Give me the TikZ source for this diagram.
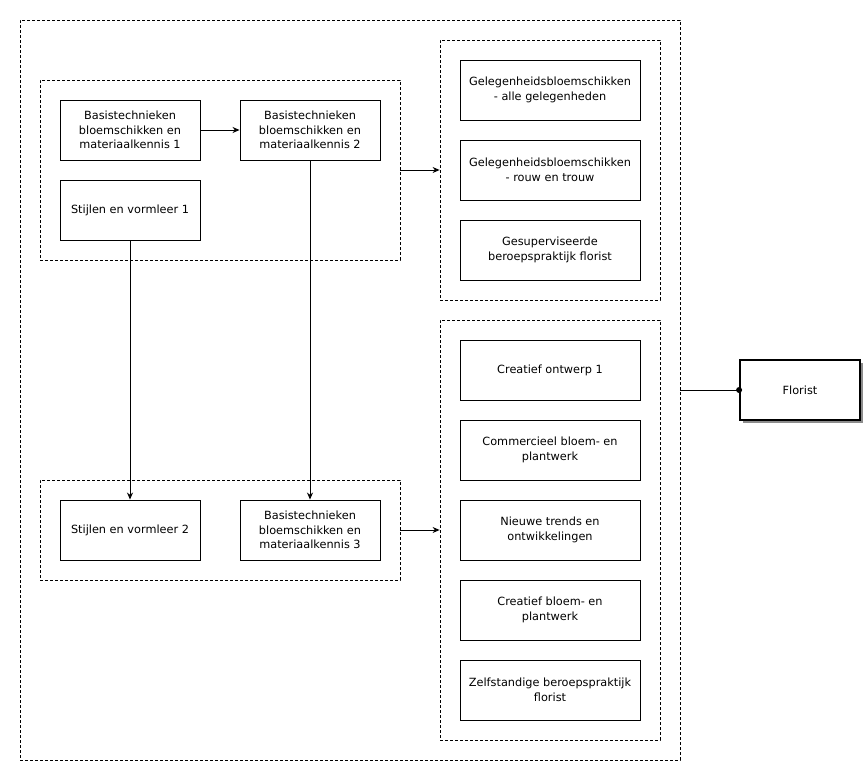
\documentclass[tikz,border=0pt]{standalone}
\usepackage{fontspec}
\setmainfont{DejaVu Sans}
\usetikzlibrary{arrows.meta, positioning, shadows}

\begin{document}
\begin{tikzpicture}[
    x=1pt, y=-1pt,
    course/.style={rectangle, draw, line width=0.9pt, fill=white, minimum width=140pt, minimum height=60pt, align=center, inner sep=2pt, font=\fontsize{11.3}{14.5}\selectfont},
    widecourse/.style={course, minimum width=180pt},
    group/.style={rectangle, draw, line width=0.8pt, dash pattern=on 3pt off 2pt, inner sep=0pt},
    flow/.style={-{Stealth[length=7pt, width=6pt]}, line width=0.9pt}
]
    \useasboundingbox (0,0) rectangle (868,765);

    % dashed groups
    \node[group, minimum width=660pt, minimum height=740pt] (outer) at (350,390) {};
    \node[group, minimum width=360pt, minimum height=180pt] (year1) at (220,170) {};
    \node[group, minimum width=360pt, minimum height=100pt] (year2) at (220,530) {};
    \node[group, minimum width=220pt, minimum height=260pt] (occasion) at (550,170) {};
    \node[group, minimum width=220pt, minimum height=420pt] (creative) at (550,530) {};

    % left courses
    \node[course] (basis1) at (130,130) {Basistechnieken\\bloemschikken en\\materiaalkennis 1};
    \node[course] (basis2) at (310,130) {Basistechnieken\\bloemschikken en\\materiaalkennis 2};
    \node[course] (stijl1) at (130,210) {Stijlen en vormleer 1};
    \node[course] (stijl2) at (130,530) {Stijlen en vormleer 2};
    \node[course] (basis3) at (310,530) {Basistechnieken\\bloemschikken en\\materiaalkennis 3};

    % right courses
    \node[widecourse] (gelegen1) at (550,90) {Gelegenheidsbloemschikken\\- alle gelegenheden};
    \node[widecourse] (gelegen2) at (550,170) {Gelegenheidsbloemschikken\\- rouw en trouw};
    \node[widecourse] (praktijk1) at (550,250) {Gesuperviseerde\\beroepspraktijk florist};
    \node[widecourse] (ontwerp) at (550,370) {Creatief ontwerp 1};
    \node[widecourse] (commercieel) at (550,450) {Commercieel bloem- en\\plantwerk};
    \node[widecourse] (trends) at (550,530) {Nieuwe trends en\\ontwikkelingen};
    \node[widecourse] (creatief) at (550,610) {Creatief bloem- en\\plantwerk};
    \node[widecourse] (praktijk2) at (550,690) {Zelfstandige beroepspraktijk\\florist};

    % final qualification
    \node[course, minimum width=120pt, line width=1.8pt, drop shadow={shadow xshift=3pt, shadow yshift=-3pt, fill=black!45, opacity=1}] (florist) at (800,390) {Florist};

    % arrows
    \draw[flow] (basis1) -- (basis2);
    \draw[flow] (stijl1) -- (stijl2);
    \draw[flow] (basis2) -- (basis3);
    \draw[flow] (year1) -- (occasion);
    \draw[flow] (year2) -- (creative);
    \draw[line width=0.9pt] (outer.east) -- (florist.west);
    \fill (florist.west) circle (3pt);
\end{tikzpicture}
\end{document}
